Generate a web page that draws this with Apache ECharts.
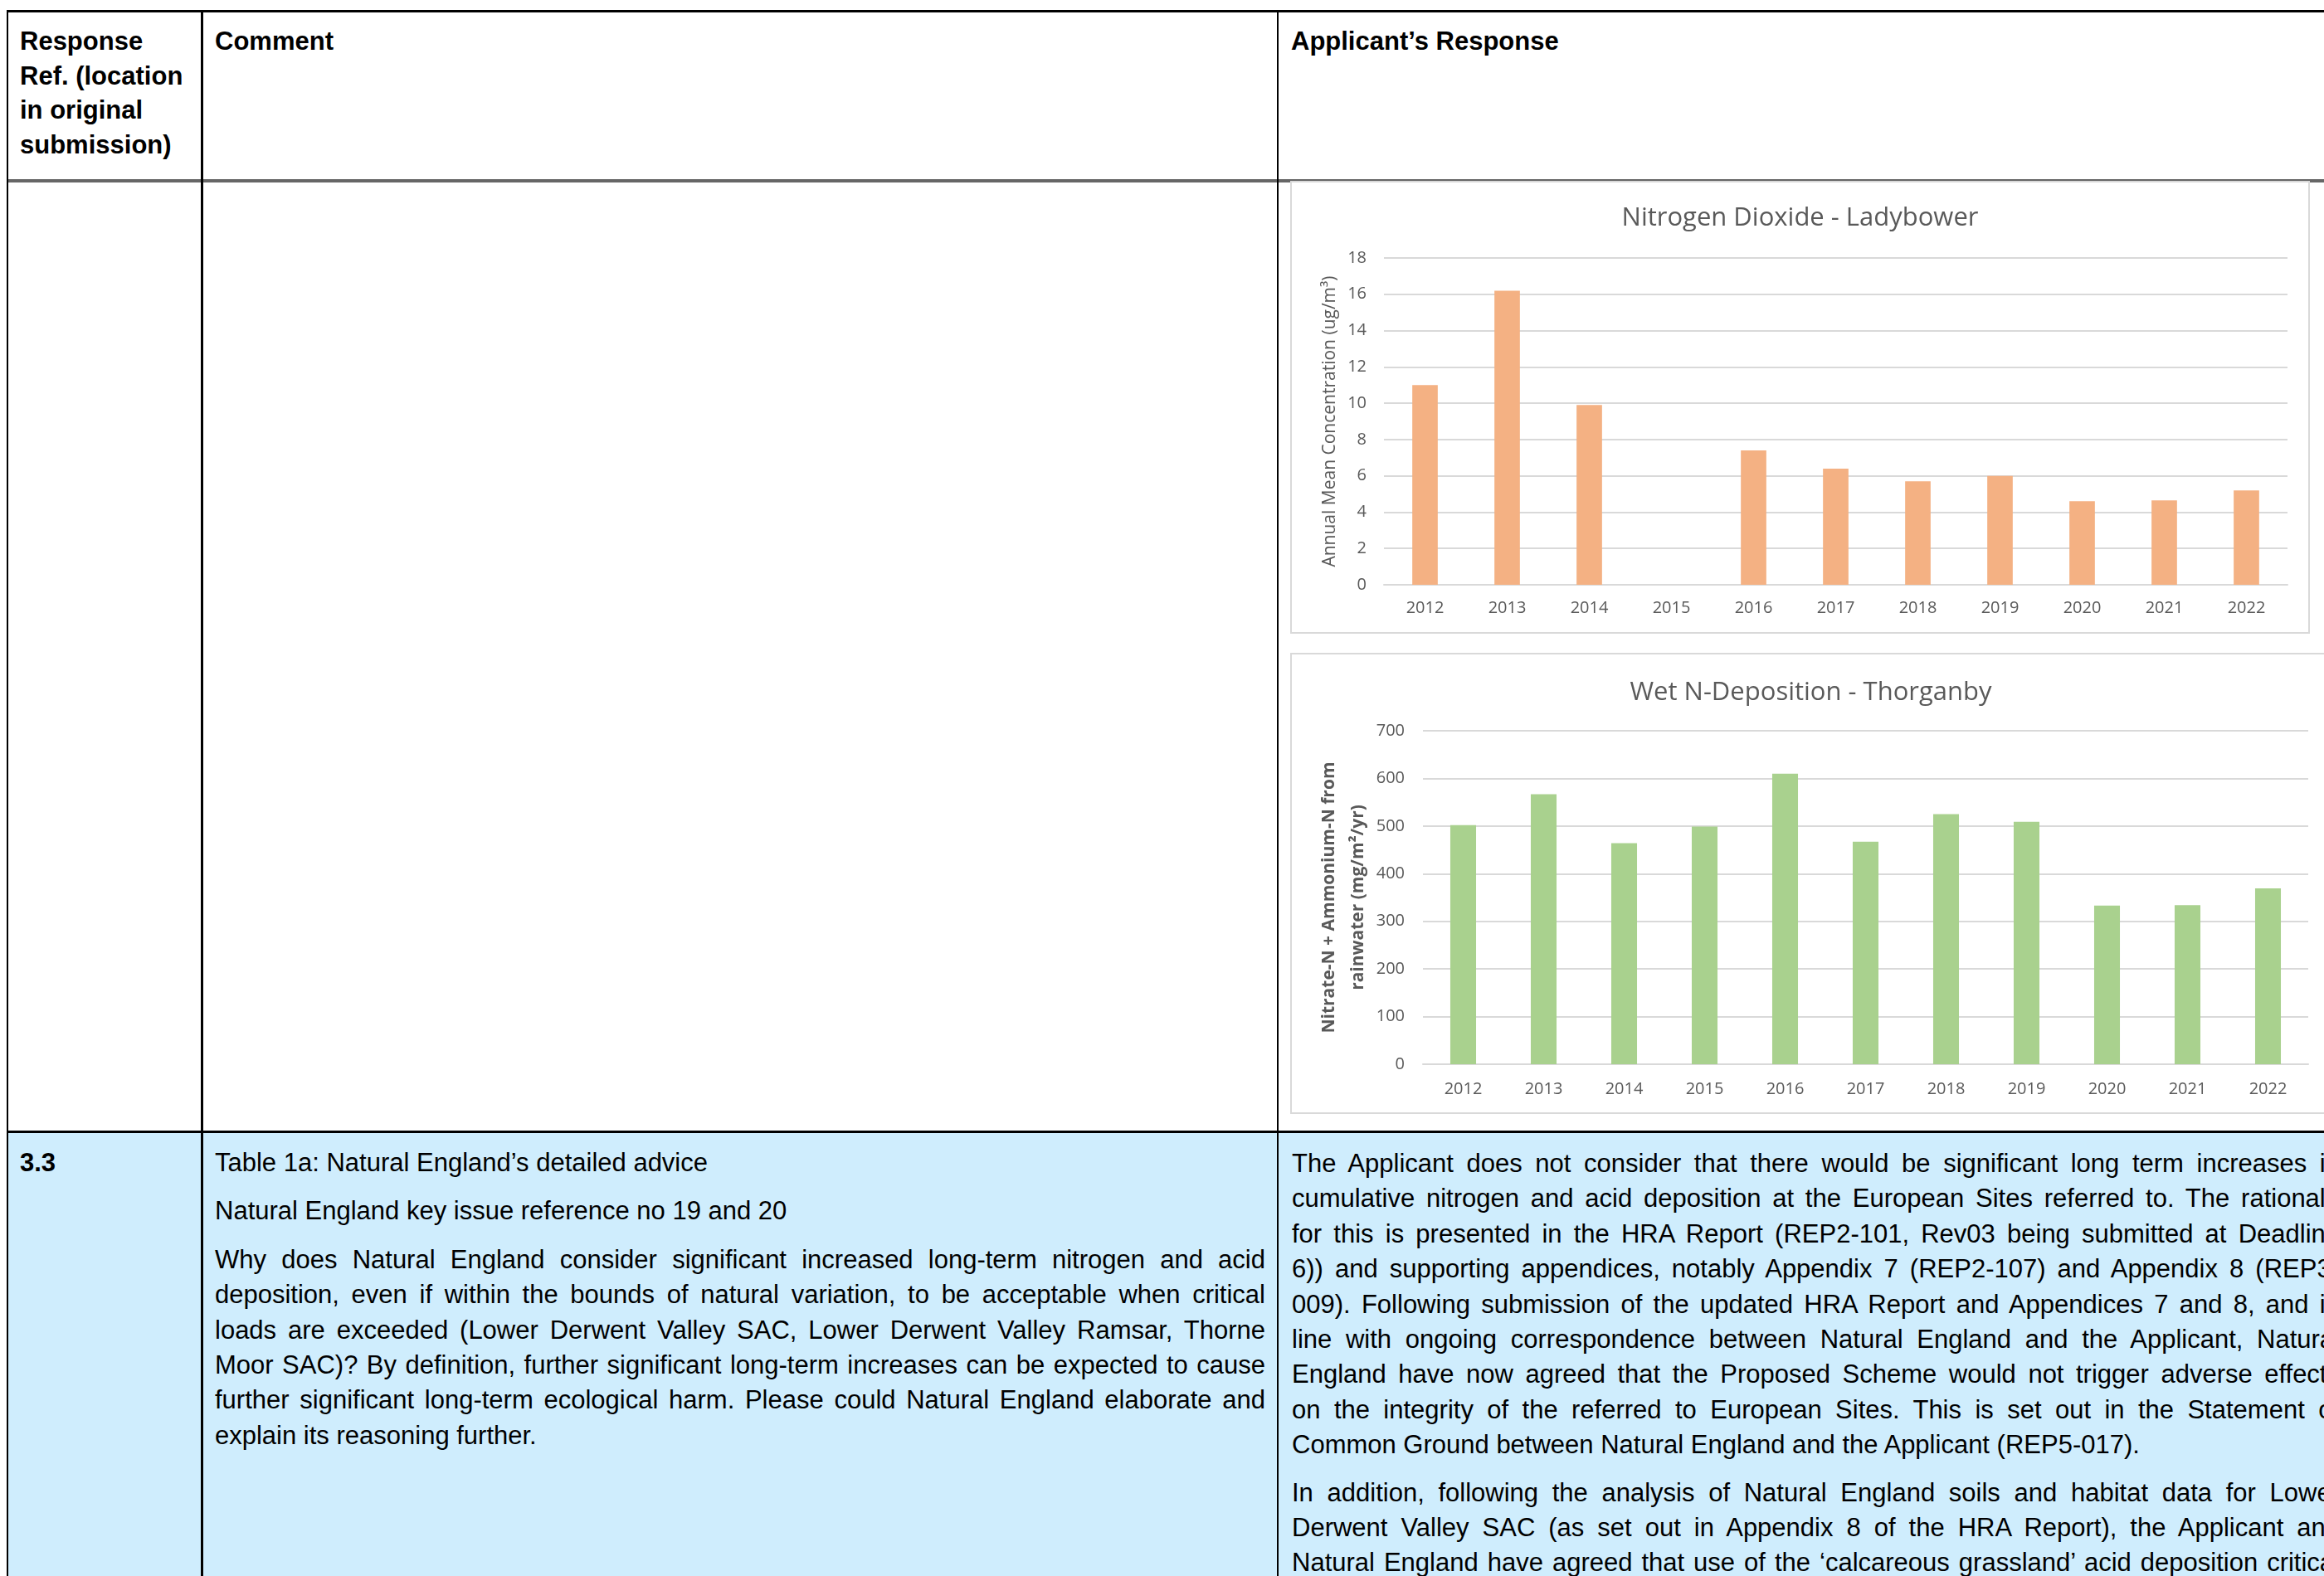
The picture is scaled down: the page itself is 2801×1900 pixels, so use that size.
<!DOCTYPE html>
<html>
<head>
<meta charset="utf-8">
<title>Response table – air quality trends</title>
<script src="https://cdn.jsdelivr.net/npm/echarts@6/dist/echarts.min.js"></script>
<style>
  html, body { margin: 0; padding: 0; width: 2801px; height: 1900px; overflow: hidden; background: #fff; }
  body { position: relative; font-family: "Liberation Sans", Arial, sans-serif; font-size: 31px; color: #000; }
  .abs { position: absolute; }
  .rule { position: absolute; background: #000; }
  .hdr { font-weight: bold; line-height: 41.5px; }
  .col { position: absolute; }
  .col p { margin: 0 0 16px 0; }
  .ln { display: block; height: 42.4px; line-height: 42.4px; text-align: justify; text-align-last: justify; }
  .ln.end { text-align: left; text-align-last: left; }
  .box { position: absolute; border: 2px solid #d9d9d9; background: #fff; box-sizing: border-box; }
  .box > div { width: 100%; height: 100%; }
</style>
</head>
<body>

<!-- shaded second row -->
<div class="abs" style="left:10px; top:1366px; width:2791px; height:534px; background:#CFEDFD;"></div>

<!-- table rules -->
<div class="rule" style="left:8px; top:12px; width:2793px; height:3px;"></div>
<div class="rule" style="left:8px; top:216px; width:2793px; height:4px; background:#666;"></div>
<div class="rule" style="left:8px; top:1363px; width:2793px; height:3px;"></div>
<div class="rule" style="left:8px; top:12px; width:2px; height:1888px;"></div>
<div class="rule" style="left:242px; top:12px; width:3px; height:1888px;"></div>
<div class="rule" style="left:1539px; top:12px; width:2px; height:1888px;"></div>

<!-- header row -->
<div class="abs hdr" style="left:24px; top:29px;">Response<br>Ref. (location<br>in original<br>submission)</div>
<div class="abs hdr" style="left:259px; top:29px;">Comment</div>
<div class="abs hdr" style="left:1556px; top:29px;">Applicant’s Response</div>

<!-- chart panels -->
<div class="box" style="left:1555px; top:218px; width:1229px; height:546px;"><div id="chartNo2"></div></div>
<div class="box" style="left:1555px; top:787px; width:1255px; height:556px;"><div id="chartWetN"></div></div>

<!-- row 3.3 -->
<div class="abs" style="left:24px; top:1381px; font-weight:bold; line-height:42.4px;">3.3</div>

<div class="col" style="left:259px; top:1381px; width:1266px;">
  <p><span class="ln end">Table 1a: Natural England’s detailed advice</span></p>
  <p><span class="ln end">Natural England key issue reference no 19 and 20</span></p>
  <p>
    <span class="ln">Why does Natural England consider significant increased long-term nitrogen and acid</span>
    <span class="ln">deposition, even if within the bounds of natural variation, to be acceptable when critical</span>
    <span class="ln">loads are exceeded (Lower Derwent Valley SAC, Lower Derwent Valley Ramsar, Thorne</span>
    <span class="ln">Moor SAC)? By definition, further significant long-term increases can be expected to cause</span>
    <span class="ln">further significant long-term ecological harm. Please could Natural England elaborate and</span>
    <span class="ln end">explain its reasoning further.</span>
  </p>
</div>

<div class="col" style="left:1557px; top:1382px; width:1263px;">
  <p style="margin-bottom:15px;">
    <span class="ln">The Applicant does not consider that there would be significant long term increases in</span>
    <span class="ln">cumulative nitrogen and acid deposition at the European Sites referred to. The rationale</span>
    <span class="ln">for this is presented in the HRA Report (REP2-101, Rev03 being submitted at Deadline</span>
    <span class="ln">6)) and supporting appendices, notably Appendix 7 (REP2-107) and Appendix 8 (REP3-</span>
    <span class="ln">009). Following submission of the updated HRA Report and Appendices 7 and 8, and in</span>
    <span class="ln">line with ongoing correspondence between Natural England and the Applicant, Natural</span>
    <span class="ln">England have now agreed that the Proposed Scheme would not trigger adverse effects</span>
    <span class="ln">on the integrity of the referred to European Sites. This is set out in the Statement of</span>
    <span class="ln end">Common Ground between Natural England and the Applicant (REP5-017).</span>
  </p>
  <p>
    <span class="ln">In addition, following the analysis of Natural England soils and habitat data for Lower</span>
    <span class="ln">Derwent Valley SAC (as set out in Appendix 8 of the HRA Report), the Applicant and</span>
    <span class="ln">Natural England have agreed that use of the ‘calcareous grassland’ acid deposition critical</span>
  </p>
</div>

<script>
// Monitoring years shared by both charts
const years = ['2012', '2013', '2014', '2015', '2016', '2017', '2018', '2019', '2020', '2021', '2022'];

// Annual mean NO2 at Ladybower (ug/m3); no value for 2015
const no2Ladybower = [11.0, 16.2, 9.9, null, 7.4, 6.4, 5.7, 6.0, 4.6, 4.65, 5.2];

// Nitrate-N + Ammonium-N from rainwater at Thorganby (mg/m2/yr)
const wetNThorganby = [502, 567, 464, 499, 610, 467, 525, 509, 333, 334, 369];

const textGrey = '#595959';
const gridGrey = '#d9d9d9';
const chartFont = '"Open Sans", "Noto Sans", sans-serif';

function barOption(cfg) {
  return {
    animation: false,
    title: {
      text: cfg.title,
      left: 'center',
      top: cfg.titleTop,
      padding: 0,
      textStyle: { fontFamily: chartFont, fontSize: 31, fontWeight: 'normal', color: textGrey, lineHeight: 38 }
    },
    grid: cfg.grid,
    xAxis: {
      type: 'category',
      data: years,
      axisLine: { lineStyle: { color: gridGrey, width: 2 } },
      axisTick: { show: false },
      axisLabel: { color: textGrey, fontFamily: chartFont, fontSize: 20, lineHeight: 20, margin: cfg.xLabelMargin }
    },
    yAxis: {
      type: 'value',
      min: 0,
      max: cfg.max,
      interval: cfg.interval,
      name: cfg.yName,
      nameLocation: 'middle',
      nameRotate: 90,
      nameGap: cfg.nameGap,
      nameMoveOverlap: false,
      nameTextStyle: {
        fontFamily: chartFont, fontSize: 21, color: textGrey,
        fontWeight: cfg.nameBold ? 'bold' : 'normal', lineHeight: cfg.nameLineHeight
      },
      axisLine: { show: false },
      axisTick: { show: false },
      axisLabel: { color: textGrey, fontFamily: chartFont, fontSize: 20, margin: cfg.yLabelMargin },
      splitLine: { lineStyle: { color: gridGrey, width: 2 } }
    },
    series: [{
      type: 'bar',
      data: cfg.values,
      barWidth: cfg.barWidth,
      itemStyle: { color: cfg.color }
    }]
  };
}

const no2Chart = echarts.init(document.getElementById('chartNo2'));
no2Chart.setOption(barOption({
  title: 'Nitrogen Dioxide - Ladybower',
  titleTop: 24,
  grid: { left: 111, top: 91, width: 1089, height: 394 },
  max: 18,
  interval: 2,
  yName: 'Annual Mean Concentration (ug/m³)',
  nameGap: 53,
  nameBold: false,
  nameLineHeight: 24,
  xLabelMargin: 18,
  yLabelMargin: 21,
  values: no2Ladybower,
  barWidth: '31%',
  color: '#F4B183'
}));

const wetNChart = echarts.init(document.getElementById('chartWetN'));
wetNChart.setOption(barOption({
  title: 'Wet N-Deposition - Thorganby',
  titleTop: 27,
  grid: { left: 158, top: 92, width: 1067, height: 402 },
  max: 700,
  interval: 100,
  yName: 'Nitrate-N + Ammonium-N from\nrainwater (mg/m²/yr)',
  nameGap: 60,
  nameBold: true,
  nameLineHeight: 35,
  xLabelMargin: 20,
  yLabelMargin: 22,
  values: wetNThorganby,
  barWidth: '32%',
  color: '#A9D18E'
}));
</script>
</body>
</html>
